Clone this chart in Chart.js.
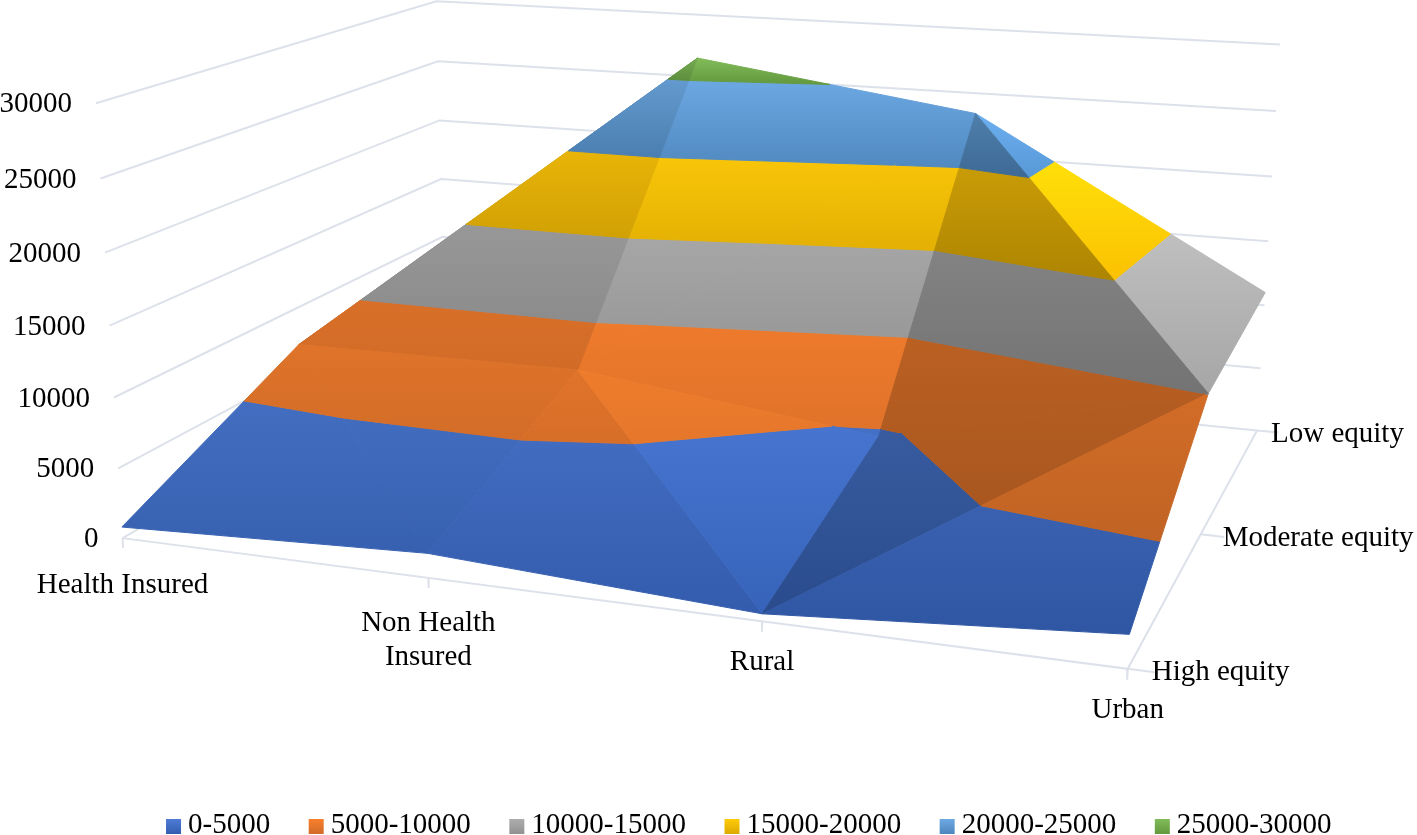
<!DOCTYPE html>
<html lang="en">
<head>
    <meta charset="UTF-8">
    <title>Equity surface</title>
    <script src="https://cdn.jsdelivr.net/npm/chart.js"></script>
    <style>
        body { margin: 0; background: #fff; }
        canvas { display: block; }
    </style>
</head>
<body>
    <canvas id="surfaceChart" width="1417" height="835"></canvas>
    <script>
        // Chart values
        const categories = ['Health Insured', 'Non Health Insured', 'Rural', 'Urban'];
        const seriesNames = ['High equity', 'Moderate equity', 'Low equity'];
        const highEquity = [800, 1700, 500, 2200];
        const moderateEquity = [7100, 7300, 4590, 10050];
        const lowEquity = [4000, 26500, 23400, 11000];
        const valueTicks = [0, 5000, 10000, 15000, 20000, 25000, 30000];
        const bandLabels = ['0-5000', '5000-10000', '10000-15000', '15000-20000', '20000-25000', '25000-30000'];
        const bandColors = [[58, 106, 200], [237, 122, 44], [165, 165, 165], [250, 192, 2], [88, 152, 214], [112, 173, 71]];
        const bandGloss = [0.09, 0, 0, 0.03, 0.1, 0.08];

        const heights = [highEquity, moderateEquity, lowEquity];
        const FONT = '29px "Liberation Serif"';

        // Where the box corners of the 3D chart land on screen: [category, series, value, x, y]
        const cameraPoints = [
            [0, 0, 0, 122, 537], [0, 0, 15000, 110, 325], [0, 0, 30000, 96, 103],
            [0, 2, 0, 447, 350], [0, 2, 15000, 440, 178], [0, 2, 30000, 437, 0],
            [3, 2, 0, 1257, 430], [3, 2, 15000, 1269, 241], [3, 2, 30000, 1281, 43],
            [3, 0, 0, 1128, 667], [1, 0, 0, 428, 578], [2, 0, 0, 763, 622], [3, 1, 0, 1203, 535]
        ];

        // Least squares fit of the perspective camera
        function fitCamera(points) {
            const n = 11;
            const m = Array.from({ length: n }, () => new Array(n + 1).fill(0));
            const addRow = (r, b) => {
                for (let i = 0; i < n; i++) {
                    for (let j = 0; j < n; j++) m[i][j] += r[i] * r[j];
                    m[i][n] += r[i] * b;
                }
            };
            points.forEach(([u, v, val, x, y]) => {
                const z = val / 10000;
                addRow([u, v, z, 1, 0, 0, 0, 0, -x * u, -x * v, -x * z], x);
                addRow([0, 0, 0, 0, u, v, z, 1, -y * u, -y * v, -y * z], y);
            });
            for (let c = 0; c < n; c++) {
                let p = c;
                for (let r = c + 1; r < n; r++) if (Math.abs(m[r][c]) > Math.abs(m[p][c])) p = r;
                [m[c], m[p]] = [m[p], m[c]];
                for (let r = 0; r < n; r++) {
                    if (r === c) continue;
                    const f = m[r][c] / m[c][c];
                    for (let k = c; k <= n; k++) m[r][k] -= f * m[c][k];
                }
            }
            return m.map((row, i) => row[n] / row[i]);
        }
        const cam = fitCamera(cameraPoints);

        function project(u, v, val) {
            const z = val / 10000;
            const w = cam[8] * u + cam[9] * v + cam[10] * z + 1;
            return {
                x: (cam[0] * u + cam[1] * v + cam[2] * z + cam[3]) / w,
                y: (cam[4] * u + cam[5] * v + cam[6] * z + cam[7]) / w
            };
        }

        // Surface triangles, back to front: corners are [category, series], shade is the lighting of that facet
        const facets = [
            { corners: [[0, 1], [1, 2], [0, 2]], shade: 0.8 },
            { corners: [[3, 1], [3, 2], [2, 2]], shade: 1.14 },
            { corners: [[1, 1], [2, 2], [1, 2]], shade: 1.0 },
            { corners: [[1, 1], [2, 1], [2, 2]], shade: 1.0 },
            { corners: [[0, 1], [1, 1], [1, 2]], shade: 0.9 },
            { corners: [[2, 1], [3, 1], [2, 2]], shade: 0.79 },
            { corners: [[0, 0], [1, 0], [0, 1]], shade: 0.95 },
            { corners: [[1, 0], [1, 1], [0, 1]], shade: 0.95 },
            { corners: [[1, 0], [2, 0], [1, 1]], shade: 0.97 },
            { corners: [[2, 0], [2, 1], [1, 1]], shade: 1.04 },
            { corners: [[2, 0], [3, 1], [2, 1]], shade: 0.79 },
            { corners: [[2, 0], [3, 0], [3, 1]], shade: 0.92 }
        ];

        // Keep the part of a polygon on one side of a value level
        function clipLevel(poly, level, keepAbove) {
            const out = [];
            poly.forEach((a, i) => {
                const b = poly[(i + 1) % poly.length];
                const aIn = keepAbove ? a[2] >= level : a[2] <= level;
                const bIn = keepAbove ? b[2] >= level : b[2] <= level;
                if (aIn) out.push(a);
                if (aIn !== bIn) {
                    const t = (level - a[2]) / (b[2] - a[2]);
                    out.push([a[0] + t * (b[0] - a[0]), a[1] + t * (b[1] - a[1]), level]);
                }
            });
            return out;
        }

        const gridColor = '#dde1ea';
        const datasets = [];
        function addLine(points) {
            datasets.push({
                type: 'line', data: points.map(p => project(p[0], p[1], p[2])),
                borderColor: gridColor, borderWidth: 2, pointRadius: 0, fill: false, tension: 0, clip: false
            });
        }

        // Walls and floor
        const lastCol = categories.length - 1;
        const lastRow = seriesNames.length - 1;
        valueTicks.forEach(t => addLine([[0, 0, t], [0, lastRow, t], [lastCol, lastRow, t]]));
        addLine([[0, 0, 0], [lastCol, 0, 0], [lastCol, lastRow, 0]]);
        categories.forEach((c, i) => addLine([[i, 0, 0], [i, 0, -700]]));
        seriesNames.forEach((s, j) => addLine([[lastCol, j, 0], [lastCol + 0.07, j, 0]]));

        // One polygon for every facet and value band
        facets.forEach(f => {
            const tri = f.corners.map(([u, v]) => [u, v, heights[v][u]]);
            bandLabels.forEach((label, b) => {
                const part = clipLevel(clipLevel(tri, b * 5000, true), (b + 1) * 5000, false);
                if (part.length < 3) return;
                datasets.push({
                    type: 'line', label, surface: true, band: b, shade: f.shade,
                    data: part.map(p => project(p[0], p[1], p[2])),
                    pointRadius: 0, borderWidth: 0, clip: false
                });
            });
        });
        // later datasets paint over earlier ones
        datasets.forEach((d, i) => { d.order = -i; });

        const rgb = (c, f) => 'rgb(' + c.map(v => Math.min(255, Math.round(v * f))).join(',') + ')';
        // lighter upper end of a band: scaled colour mixed a little with white
        const glossy = (c, f, g) => 'rgb(' + c.map(v => Math.round(Math.min(255, v * f) * (1 - g) + 255 * g)).join(',') + ')';

        // Vertical extent of a whole band, so its shading runs across the facets
        function bandExtent(chart, band) {
            const ys = [];
            chart.data.datasets.forEach((d, i) => {
                if (d.surface && d.band === band) chart.getDatasetMeta(i).data.forEach(p => ys.push(p.y));
            });
            return [Math.max(...ys), Math.min(...ys)];
        }

        const surfacePlugin = {
            id: 'surface',
            beforeDatasetDraw(chart, args) {
                const ds = chart.data.datasets[args.index];
                if (!ds.surface) return;
                const pts = args.meta.data;
                const ctx = chart.ctx;
                const [low, high] = bandExtent(chart, ds.band);
                const grad = ctx.createLinearGradient(0, low, 0, high);
                grad.addColorStop(0, rgb(bandColors[ds.band], ds.shade * 0.88));
                grad.addColorStop(1, glossy(bandColors[ds.band], ds.shade * 1.05, bandGloss[ds.band]));
                ctx.save();
                ctx.beginPath();
                pts.forEach((p, i) => (i ? ctx.lineTo(p.x, p.y) : ctx.moveTo(p.x, p.y)));
                ctx.closePath();
                ctx.fillStyle = grad;
                ctx.strokeStyle = grad;
                ctx.lineWidth = 1;
                ctx.fill();
                ctx.stroke();
                ctx.restore();
                return false;
            },
            afterDraw(chart) {
                const ctx = chart.ctx;
                const sx = chart.scales.x;
                const sy = chart.scales.y;
                const at = (u, v, val) => {
                    const p = project(u, v, val);
                    return [sx.getPixelForValue(p.x), sy.getPixelForValue(p.y)];
                };
                ctx.save();
                ctx.font = FONT;
                ctx.fillStyle = '#000';
                ctx.textBaseline = 'middle';

                ctx.textAlign = 'right';
                valueTicks.forEach(t => {
                    const [x, y] = at(0, 0, t);
                    ctx.fillText(String(t), x - 24, y + 1.5);
                });

                ctx.textAlign = 'center';
                const catLines = [['Health Insured'], ['Non Health', 'Insured'], ['Rural'], ['Urban']];
                const catGap = [47, 45, 41, 42];
                catLines.forEach((lines, i) => {
                    const [x, y] = at(i, 0, 0);
                    lines.forEach((t, k) => ctx.fillText(t, x, y + catGap[i] + k * 34));
                });

                ctx.textAlign = 'left';
                const seriesGap = [24, 22, 14];
                seriesNames.forEach((s, j) => {
                    const [x, y] = at(lastCol, j, 0);
                    ctx.fillText(s, x + seriesGap[j], y + 4);
                });

                // legend swatches sit closer to their text than the library's own box would
                chart.legend.legendHitBoxes.forEach((h, i) => {
                    const top = h.top + h.height / 2 - 7.5 + 1;
                    const grad = ctx.createLinearGradient(0, top + 15, 0, top);
                    grad.addColorStop(0, rgb(bandColors[i], 0.88));
                    grad.addColorStop(1, glossy(bandColors[i], 1.05, bandGloss[i]));
                    ctx.fillStyle = grad;
                    ctx.fillRect(h.left + 7.5, top, 15, 15);
                });
                ctx.restore();
            }
        };

        const chart = new Chart(document.getElementById('surfaceChart'), {
            type: 'scatter',
            data: { datasets },
            plugins: [surfacePlugin],
            options: {
                responsive: false,
                animation: false,
                layout: { padding: { left: 73, bottom: -15 } },
                scales: {
                    x: { type: 'linear', display: false, min: 73, max: 1417 },
                    y: { type: 'linear', display: false, min: 0, max: 780, reverse: true }
                },
                plugins: {
                    tooltip: { enabled: false },
                    legend: {
                        position: 'bottom',
                        labels: {
                            font: { family: 'Liberation Serif', size: 29 },
                            color: '#000',
                            boxWidth: 15,
                            boxHeight: 15,
                            padding: 31,
                            generateLabels: () => bandLabels.map(text => ({
                                text, fillStyle: 'rgba(0,0,0,0)', strokeStyle: 'rgba(0,0,0,0)', lineWidth: 0
                            }))
                        }
                    }
                }
            }
        });

        // map data units one to one onto the pixels of the plot area
        chart.options.scales.y.max = chart.chartArea.bottom;
        chart.update('none');
    </script>
</body>
</html>
